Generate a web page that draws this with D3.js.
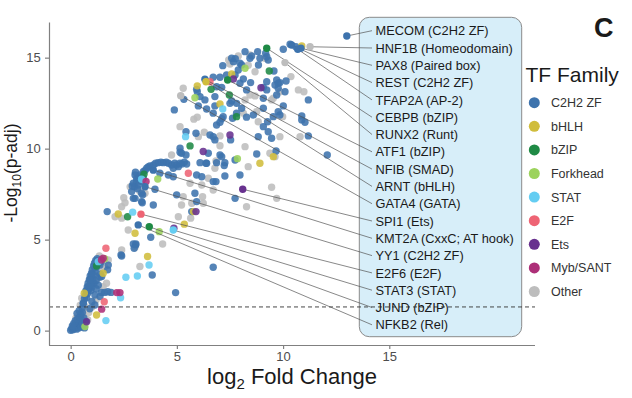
<!DOCTYPE html>
<html lang="en">
<head>
<meta charset="UTF-8">
<title>TF Family volcano</title>
<script src="https://cdn.jsdelivr.net/npm/d3@7/dist/d3.min.js"></script>
<style>
    body { margin: 0; background: #fff; }
    svg { display: block; font-family: Arial, "Liberation Sans", sans-serif; }
</style>
</head>
<body>
<script>
    // 数据: [log2 fold change, -log10(p-adj)]
    const families = ['C2H2 ZF', 'bHLH', 'bZIP', 'Forkhead', 'STAT', 'E2F', 'Ets', 'Myb/SANT', 'Other'];

    const c2h2Points = [
        [0.0,0.02],[0.05,0.1],[0.1,0.05],[0.12,0.2],[0.18,0.12],[0.2,0.3],[0.25,0.18],[0.3,0.4],[0.28,0.08],[0.35,0.25],
        [0.4,0.5],[0.38,0.15],[0.45,0.35],[0.5,0.6],[0.5,0.2],[0.55,0.45],[0.6,0.3],[0.62,0.7],[0.15,0.4],[0.22,0.55],
        [0.08,0.25],[0.32,0.65],[0.42,0.75],[0.48,0.9],[0.3,0.95],[0.7,0.5],[0.65,0.15],[0.55,1.0],[0.4,1.1],
        [0.55,1.25],[0.6,1.5],[0.65,1.75],[0.7,1.95],[0.72,2.2],[0.78,2.4],[0.82,2.6],[0.88,2.8],[0.92,3.0],[0.98,3.15],
        [1.02,3.35],[1.08,3.55],[1.12,3.7],[1.18,3.85],[1.25,3.95],[0.85,2.25],[0.92,2.45],[0.98,2.65],[1.05,2.85],[1.1,3.05],
        [1.15,3.25],[1.2,3.45],[1.3,3.65],[1.38,3.6],[1.45,3.8],[0.75,1.8],[0.8,2.05],[0.95,2.2],[1.0,2.4],[1.1,2.6],
        [1.2,2.75],[1.4,3.1],[1.38,2.95],[1.46,2.97],[1.74,3.34],[1.77,3.6],[0.99,3.06],[0.91,2.79],[0.83,2.42],[0.75,2.14],
        [1.38,1.87],[1.14,1.96],[0.59,1.51],[1.14,1.41],[1.45,2.1],[1.6,2.1],[1.75,2.14],[1.9,2.1],[0.9,1.2],[1.0,1.6],
        [1.2,2.3],[1.3,2.5],
        [1.72,6.54],[2.37,4.16],[2.4,4.1],[2.95,4.76],[3.07,4.76],[3.06,4.71],[2.99,4.53],[3.77,5.13],[3.84,3.06],[6.71,3.48],
        [4.94,2.09],
        [2.95,8.1],[3.03,8.55],[3.11,8.37],[2.87,7.64],[2.95,7.27],[3.18,8.0],[3.34,8.19],[3.26,8.55],[3.42,8.74],[3.58,8.92],
        [3.73,9.05],[4.12,9.23],[4.36,9.23],[4.6,9.2],[4.75,9.1],[4.99,9.1],[5.23,9.16],[5.46,9.16],[4.83,8.92],[5.07,9.01],
        [3.42,8.37],[3.34,7.55],[3.34,7.09],[3.89,6.9],[3.97,7.77],[4.2,8.65],[4.6,8.55],[4.83,8.46],[3.37,7.03],[3.03,7.27],
        [3.39,7.46],[4.99,7.46],[3.1,8.2],[3.2,8.45],[3.0,7.9],[3.15,7.8],[3.5,8.8],[3.65,9.0],[3.9,9.1],[4.0,9.2],
        [4.25,9.25],[4.5,9.25],[4.9,9.2],[5.15,9.2],[5.35,9.25],[2.9,7.95],[3.05,8.7],
        [6.09,9.23],[6.37,9.2],[6.87,9.23],[7.11,9.56],[7.26,9.23],[7.74,9.38],[8.76,9.71],[9.67,9.87],[12.08,9.65],[5.93,8.55],
        [6.17,8.46],[6.84,8.19],[7.26,8.5],[7.97,8.55],[7.74,7.27],[5.85,7.55],[5.93,7.09],[5.7,6.54],[6.71,8.19],
        [5.43,10.93],[6.56,10.75],[6.79,10.48],[6.71,10.66],[5.15,10.02],[5.22,9.75],[5.15,9.8],[5.43,9.65],[6.48,9.75],[7.03,9.65],
        [6.4,9.2],[5.9,10.85],[7.53,10.48],[7.23,9.07],
        [9.07,11.21],[8.83,10.66],[9.3,10.93],[9.46,10.57],[11.19,10.7],[10.88,11.58],[11.03,11.45],[10.88,11.8],
        [4.88,12.13],[5.33,12.71],[5.96,13.13],[6.32,12.68],[6.01,12.35],[6.4,12.18],[6.79,12.86],[6.87,13.4],[7.11,13.37],[6.71,13.92],
        [7.03,13.92],[5.93,13.26],[6.09,12.86],[6.79,12.35],[7.58,12.62],[7.81,12.49],[9.07,12.77],[9.23,13.23],[10.09,13.13],[11.19,12.68],
        [10.01,12.35],[9.54,11.76],[9.07,12.22],[8.6,11.85],[8.28,11.73],[7.62,11.67],[7.18,11.76],[6.71,11.95],[6.87,11.3],[7.03,11.45],
        [7.11,11.65],[9.27,11.48],[9.77,12.03],[9.85,11.85],[8.05,12.22],[7.81,11.95],[7.5,12.49],
        [7.16,14.56],[7.66,14.78],[7.97,14.69],[7.75,14.95],[8.44,14.97],[8.52,15.09],[8.21,15.33],[8.8,15.33],[9.18,15.24],[9.3,14.87],
        [9.57,14.27],[10.14,13.72],[9.7,13.77],[9.85,13.63],[9.62,13.5],[9.23,13.68],[9.07,13.37],[8.47,13.63],[8.13,13.83],[7.97,13.59],
        [9.77,13.59],[9.77,13.32],[9.7,12.95],[8.28,13.23],[8.05,14.6],[7.89,14.32],[7.34,14.05],[7.74,14.05],[10.33,15.74],[10.01,15.46],
        [8.91,14.97],[7.58,14.97],[9.23,15.05],[8.84,14.6],[10.6,15.6]
    ];

    const bhlhPoints = [
        [0.64,2.05],[1.53,3.15],[1.22,0.86],[2.24,6.41],[3.03,5.35],[3.62,4.07],[5.35,5.85],[5.78,6.54],[8.91,9.2],[9.54,9.56],
        [7.03,12.46],[5.96,13.45],[7.58,14.1],[10.88,15.64]
    ];
    const bzipPoints = [[1.22,3.55],[2.68,6.26],[5.62,10.15],[6.61,13.26],[7.47,12.95],[7.81,11.76],[9.35,14.27],[3.45,8.6]];
    const forkheadPoints = [[5.85,12.8],[7.85,9.45],[4.17,5.44],[8.21,14.42],[0.67,0.22],[1.6,3.95],[4.1,8.33]];
    const statPoints = [[2.92,6.51],[2.6,2.93],[3.14,3.0],[3.69,3.61],[2.35,1.81],[1.3,3.79],[7.16,12.18],[5.41,10.66],[3.34,8.32],[1.66,0.55]];
    const e2fPoints = [[1.66,4.53],[1.58,1.59],[5.54,8.65],[6.56,13.68]];
    const etsPoints = [[0.75,0.49],[4.86,5.63],[5.9,6.54],[7.5,10.75],[6.24,9.84],[8.96,13.35],[7.66,13.83]];
    const mybPoints = [[1.53,3.98],[1.45,3.88],[2.17,2.09],[2.32,2.09],[1.46,1.18],[3.55,8.2]];
    const otherPoints = [
        [0.35,0.8],[0.52,1.78],[0.7,1.3],[0.25,0.7],[0.6,0.9],[0.8,0.6],[0.45,1.4],
        [1.11,2.69],[1.53,2.42],[1.69,2.6],[1.77,3.88],[1.5,3.3],[1.3,2.9],[1.0,1.3],[0.85,1.0],[1.6,3.5],[1.2,1.7],[1.35,4.1],
        [2.4,4.43],[3.26,3.52],[4.33,4.76],[3.03,4.58],[2.71,5.53],[2.4,6.18],[2.09,6.26],[2.4,6.81],[2.56,7.03],[3.26,7.64],
        [3.5,7.55],[5.62,8.1],[6.17,8.0],[6.21,7.36],[6.24,7.0],[5.7,7.0],[5.65,6.18],[5.07,6.26],[5.22,6.9],[5.3,7.36],
        [8.28,6.81],[9.46,7.88],[9.7,7.27],[8.36,9.01],[6.79,8.92],[6.48,8.37],[6.71,7.73],[4.75,9.65],[2.8,7.9],[2.5,7.3],
        [5.15,11.21],[5.8,11.62],[5.96,11.73],[6.01,10.66],[6.29,10.9],[7.03,10.7],[7.03,10.16],[6.84,9.32],[8.21,10.11],[9.38,9.75],
        [9.62,9.56],[9.85,10.66],[10.8,10.66],[8.76,12.03],[8.13,11.95],[9.98,11.76],[8.83,11.48],[8.21,12.68],[8.44,12.95],[8.68,12.9],
        [9.46,12.68],[9.54,12.77],[9.85,13.13],[10.72,13.23],[10.98,13.13],[10.37,13.96],[8.36,14.58],[7.5,14.65],[7.44,14.87],[7.89,15.09],
        [9.15,14.97],[8.68,14.23],[5.3,13.32],[8.44,15.15]
    ];

    // 标注的转录因子
    const labelNames = ['MECOM (C2H2 ZF)', 'HNF1B (Homeodomain)', 'PAX8 (Paired box)', 'REST (C2H2 ZF)', 'TFAP2A (AP-2)',
        'CEBPB (bZIP)', 'RUNX2 (Runt)', 'ATF1 (bZIP)', 'NFIB (SMAD)', 'ARNT (bHLH)', 'GATA4 (GATA)', 'SPI1 (Ets)',
        'KMT2A (CxxC; AT hook)', 'YY1 (C2H2 ZF)', 'E2F6 (E2F)', 'STAT3 (STAT)', 'JUND (bZIP)', 'NFKB2 (Rel)'];
    const labelFC = [13.0, 11.27, 10.84, 10.4, 10.69, 9.23, 10.09, 7.39, 6.32, 6.37, 5.18, 8.1, 3.89, 3.5, 3.31, 4.83, 3.7, 3.18];
    const labelP = [16.19, 15.6, 15.52, 15.7, 15.46, 15.52, 14.73, 13.77, 13.81, 13.68, 12.91, 7.77, 8.82, 7.91, 6.4, 5.53, 5.71, 5.81];
    const labelFamily = ['C2H2 ZF', 'Other', 'C2H2 ZF', 'C2H2 ZF', 'C2H2 ZF', 'bZIP', 'Other', 'bZIP', 'C2H2 ZF', 'bHLH',
        'Other', 'Ets', 'C2H2 ZF', 'C2H2 ZF', 'E2F', 'STAT', 'bZIP', 'C2H2 ZF'];

    const xTicks = [0, 5, 10, 15];
    const yTicks = [0, 5, 10, 15];
    const pThreshold = -Math.log10(0.05);

    // 颜色
    const familyColors = ['#3d73ad', '#d0bd3c', '#1f8a45', '#9cd35c', '#64cdf2', '#ee6474', '#68318f', '#ad2f78', '#bdbdbd'];
    const color = d3.scaleOrdinal().domain(families).range(familyColors);

    const width = 632;
    const height = 398;
    const plot = { left: 49, top: 22, right: 535, bottom: 345 };

    const svg = d3.select('body').append('svg')
        .attr('width', width)
        .attr('height', height);

    const x = d3.scaleLinear().domain([-1.02, 21.86]).range([plot.left, plot.right]);
    const y = d3.scaleLinear().domain([-0.79, 16.96]).range([plot.bottom, plot.top]);

    // 标签背景框
    const box = { x: 359.3, y: 17.3, w: 162.4, h: 319.4 };
    svg.append('rect')
        .attr('x', box.x).attr('y', box.y)
        .attr('width', box.w).attr('height', box.h)
        .attr('rx', 10).attr('ry', 10)
        .attr('fill', '#d7eef9')
        .attr('stroke', '#8a8a8a')
        .attr('stroke-width', 1);

    // 散点
    const seriesData = [
        ['Other', otherPoints], ['C2H2 ZF', c2h2Points], ['bHLH', bhlhPoints], ['bZIP', bzipPoints],
        ['Forkhead', forkheadPoints], ['STAT', statPoints], ['E2F', e2fPoints], ['Ets', etsPoints], ['Myb/SANT', mybPoints]
    ];
    const allPoints = [];
    seriesData.forEach(([fam, pts]) => pts.forEach(p => allPoints.push({ fc: p[0], p: p[1], fam: fam })));

    svg.append('g').selectAll('circle')
        .data(allPoints)
        .enter()
        .append('circle')
        .attr('cx', d => x(d.fc))
        .attr('cy', d => y(d.p))
        .attr('r', 3.7)
        .attr('fill', d => color(d.fam))
        .attr('fill-opacity', 0.88);

    // 显著性阈值
    svg.append('line')
        .attr('x1', plot.left).attr('x2', plot.right)
        .attr('y1', y(pThreshold)).attr('y2', y(pThreshold))
        .attr('stroke', '#333')
        .attr('stroke-width', 0.9)
        .attr('stroke-dasharray', '4,3');

    // 标注连线与文字
    const labels = labelNames.map((name, i) => ({
        name: name, fc: labelFC[i], p: labelP[i], fam: labelFamily[i],
        ty: box.y + 13.4 + i * 17.3
    }));

    svg.append('g').selectAll('line')
        .data(labels)
        .enter()
        .append('line')
        .attr('x1', d => x(d.fc)).attr('y1', d => y(d.p))
        .attr('x2', 372).attr('y2', d => d.ty)
        .attr('stroke', '#555')
        .attr('stroke-width', 0.7);

    svg.append('g').selectAll('circle')
        .data(labels)
        .enter()
        .append('circle')
        .attr('cx', d => x(d.fc))
        .attr('cy', d => y(d.p))
        .attr('r', 3.7)
        .attr('fill', d => color(d.fam));

    svg.append('g').selectAll('text')
        .data(labels)
        .enter()
        .append('text')
        .attr('x', 375.5)
        .attr('y', d => d.ty)
        .attr('dy', '0.36em')
        .attr('font-size', '12.8px')
        .attr('fill', '#1a1a1a')
        .text(d => d.name);

    // 坐标轴
    const xAxis = d3.axisBottom(x).tickValues(xTicks).tickSize(4).tickSizeOuter(0).tickPadding(3);
    const yAxis = d3.axisLeft(y).tickValues(yTicks).tickSize(4).tickSizeOuter(0).tickPadding(4.3);

    const gx = svg.append('g')
        .attr('transform', `translate(0, ${plot.bottom})`)
        .call(xAxis);
    const gy = svg.append('g')
        .attr('transform', `translate(${plot.left}, 0)`)
        .call(yAxis);

    [gx, gy].forEach(g => {
        g.select('.domain').attr('stroke', '#808080').attr('stroke-width', 1.2);
        g.selectAll('.tick line').attr('stroke', '#808080').attr('stroke-width', 1.2);
        g.selectAll('.tick text')
            .attr('fill', '#4d4d4d')
            .style('font-size', '13px')
            .style('font-family', 'Arial, "Liberation Sans", sans-serif');
    });
    gx.select('.domain').attr('d', `M${plot.left},0.5H${plot.right}`);

    // 轴标题
    const xTitle = svg.append('text')
        .attr('x', (plot.left + plot.right) / 2)
        .attr('y', 384)
        .attr('text-anchor', 'middle')
        .attr('font-size', '22px')
        .attr('fill', '#1a1a1a');
    xTitle.append('tspan').text('log');
    xTitle.append('tspan').attr('font-size', '15px').attr('dy', 5).text('2');
    xTitle.append('tspan').attr('dy', -5).text(' Fold Change');

    const yTitle = svg.append('text')
        .attr('transform', 'translate(17, 173) rotate(-90)')
        .attr('text-anchor', 'middle')
        .attr('font-size', '17.5px')
        .attr('fill', '#1a1a1a');
    yTitle.append('tspan').text('-Log');
    yTitle.append('tspan').attr('font-size', '12px').attr('dy', 4).text('10');
    yTitle.append('tspan').attr('dy', -4).text('(p-adj)');

    // 图例
    svg.append('text')
        .attr('x', 525.5).attr('y', 82)
        .attr('font-size', '21px')
        .attr('fill', '#1a1a1a')
        .text('TF Family');

    const legend = svg.append('g').selectAll('g')
        .data(families)
        .enter()
        .append('g')
        .attr('transform', (d, i) => `translate(534.3, ${102.7 + i * 23.6})`);
    legend.append('circle').attr('r', 5.5).attr('fill', d => color(d));
    legend.append('text')
        .attr('x', 16.7)
        .attr('dy', '0.36em')
        .attr('font-size', '12.5px')
        .attr('fill', '#333')
        .text(d => d);

    // 面板字母
    svg.append('text')
        .attr('x', 594).attr('y', 37)
        .attr('font-size', '27px')
        .attr('font-weight', 'bold')
        .attr('fill', '#1a1a1a')
        .text('C');
</script>
</body>
</html>
